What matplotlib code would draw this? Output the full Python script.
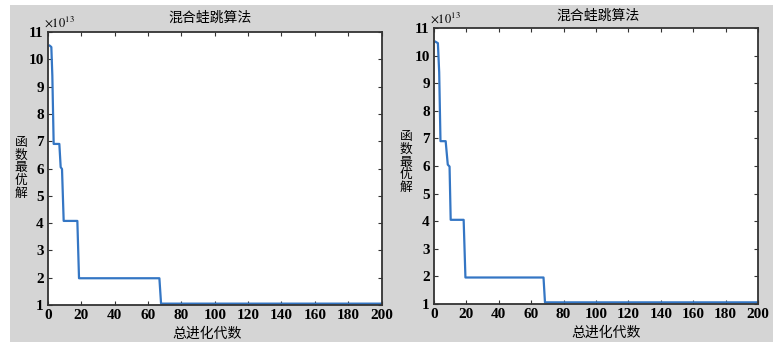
import matplotlib

matplotlib.use("Agg")

import matplotlib.pyplot as plt
from matplotlib.patches import Rectangle

plt.rcParams["font.family"] = ["Liberation Serif", "Noto Sans CJK SC"]
plt.rcParams["mathtext.fontset"] = "stix"

# ---------------------------------------------------------------------------
#  data (in units of 1e13)
# ---------------------------------------------------------------------------
left_gen = [1, 2, 2.6, 3.4, 6.8, 7.6, 8.4, 9.4, 17.6, 18.6, 66.8, 67.8, 200]
left_val = [10.5, 10.45, 9.4, 6.9, 6.9, 6.05, 5.98, 4.08, 4.08, 1.98, 1.98, 1.05, 1.05]

right_gen = [1, 2.4, 3.2, 4.0, 7.2, 8.5, 9.6, 10.3, 18.3, 19.4, 67.6, 68.5, 200]
right_val = [10.5, 10.45, 9.4, 6.9, 6.9, 6.05, 5.98, 4.05, 4.05, 1.96, 1.96, 1.06, 1.06]

title = "混合蛙跳算法"
xlabel = "总进化代数"
ylabel = "函数最优解"
offset_label = r"$\times10^{13}$"
xticks = list(range(0, 201, 20))
yticks = list(range(1, 12))

W, H = 773, 346
CJK = "Noto Sans CJK SC"


def fx(px):
    return px / W


def fy(py):
    return 1 - py / H


# ---------------------------------------------------------------------------
#  figure
# ---------------------------------------------------------------------------
fig = plt.figure(figsize=(W / 100, H / 100), dpi=100)
bg = Rectangle((fx(10), fy(342)), 1 - fx(10), 337 / H,
               transform=fig.transFigure, facecolor="#d5d5d5",
               edgecolor="none", zorder=-5)
fig.add_artist(bg)

# per panel: axes box (left, top, right, bottom in px) and text anchors
panels = [
    dict(box=(48, 32, 381.5, 305), title=(210, 18), xlab=(207, 334),
         ylab=(21, 168), off=(44, 22), data=(left_gen, left_val)),
    dict(box=(434, 28, 758, 304), title=(598, 16), xlab=(606, 333),
         ylab=(406, 162), off=(430, 18), data=(right_gen, right_val)),
]

for p in panels:
    l, t, r, b = p["box"]
    ax = fig.add_axes([fx(l), fy(b), (r - l) / W, (b - t) / H])
    ax.set_facecolor("white")
    gen, val = p["data"]
    ax.plot(gen, val, color="#3476c4", lw=1.6)
    ax.set_xlim(0, 200)
    ax.set_ylim(1, 11)
    ax.set_xticks(xticks)
    ax.set_yticks(yticks)

    ax.tick_params(direction="in", length=3, width=0.8, colors="#333333",
                   labelcolor="black", labelsize=11, top=True, right=True, pad=3)
    for lab in ax.get_xticklabels() + ax.get_yticklabels():
        lab.set_fontweight("bold")
    for sp in ax.spines.values():
        sp.set_color("#333333")
        sp.set_linewidth(1.3)

    tx, ty = p["title"]
    fig.text(fx(tx), fy(ty), title, fontsize=10, family=CJK, ha="center", va="center")
    tx, ty = p["xlab"]
    fig.text(fx(tx), fy(ty), xlabel, fontsize=10, family=CJK, ha="center", va="center")
    tx, ty = p["off"]
    fig.text(fx(tx), fy(ty), offset_label, fontsize=9, ha="left", va="center")

    # vertical label: one upright character per line
    tx, ty = p["ylab"]
    step = 12.9
    n = len(ylabel)
    for i, ch in enumerate(ylabel):
        cy = ty + (i - (n - 1) / 2) * step
        fig.text(fx(tx), fy(cy), ch, fontsize=9.2, family=CJK, ha="center", va="center")

fig.savefig("out.png", dpi=100)
